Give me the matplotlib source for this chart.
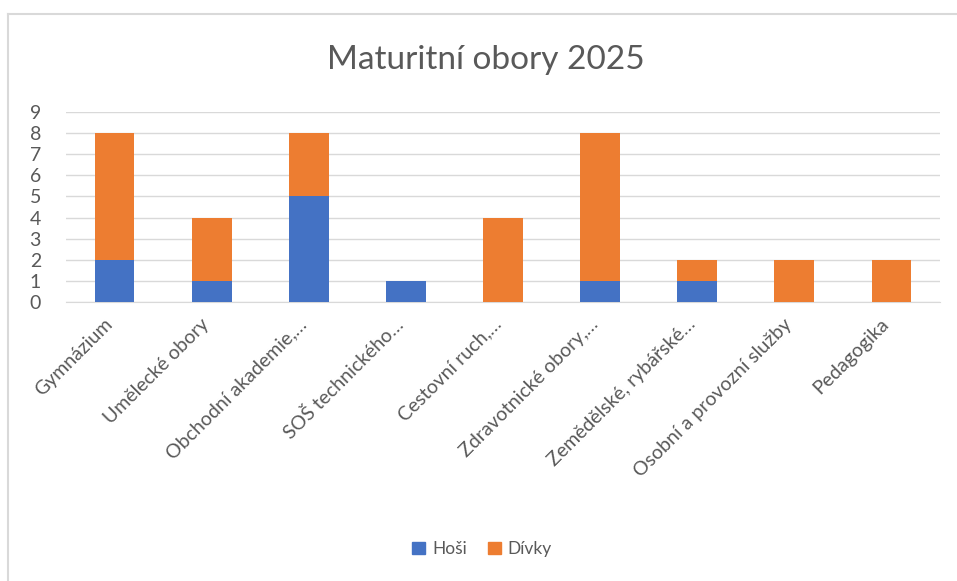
import matplotlib.pyplot as plt
import numpy as np
from matplotlib.lines import Line2D
from matplotlib.patches import Patch
from matplotlib.transforms import ScaledTranslation

plt.rcParams['font.family'] = ['Lato', 'DejaVu Sans']

# data
obory = ['Gymnázium', 'Umělecké obory', 'Obchodní akademie,…', 'SOŠ technického…',
         'Cestovní ruch,…', 'Zdravotnické obory,…', 'Zemědělské, rybářské…',
         'Osobní a provozní služby', 'Pedagogika']
hosi = [2, 1, 5, 1, 0, 1, 1, 0, 0]
divky = [6, 3, 3, 0, 4, 7, 1, 2, 2]

BLUE = '#4472C4'
ORANGE = '#ED7D31'
TEXT = '#595959'
GRID = '#D9D9D9'

fig = plt.figure(figsize=(9.57, 5.81), dpi=100)

# ramecek grafu (jen horni a leva hrana jsou videt)
fig.add_artist(Line2D([8 / 957, 1], [1 - 14 / 581] * 2, color=GRID, lw=1.5))
fig.add_artist(Line2D([8 / 957] * 2, [0, 1 - 14 / 581], color=GRID, lw=1.5))

ax = fig.add_axes([66 / 957, 1 - 302 / 581, (940 - 66) / 957, (302 - 112) / 581])

x = np.arange(len(obory))
ax.bar(x, hosi, width=0.41, color=BLUE, label='Hoši', zorder=3)
ax.bar(x, divky, width=0.41, bottom=hosi, color=ORANGE, label='Dívky', zorder=3)

ax.set_xlim(-0.5, len(obory) - 0.5)
ax.set_ylim(0, 9)
ax.set_yticks(range(0, 10))
ax.grid(axis='y', color=GRID, lw=1, zorder=0)
for s in ['top', 'right', 'left']:
    ax.spines[s].set_visible(False)
ax.spines['bottom'].set_color(GRID)
ax.tick_params(axis='both', length=0, colors=TEXT, labelsize=14)
ax.tick_params(axis='y', pad=18)
ax.set_xticks(x)
ax.set_xticklabels(obory, rotation=45, ha='right', va='center', rotation_mode='anchor')
ax.tick_params(axis='x', pad=14)
# posun popisku trochu doleva
posun = ScaledTranslation(-5 / 100, 0, fig.dpi_scale_trans)
for lbl in ax.get_xticklabels():
    lbl.set_transform(lbl.get_transform() + posun)

fig.text(486 / 957, 1 - 60 / 581, 'Maturitní obory 2025', ha='center', va='center',
         fontsize=24, color=TEXT)

handles = [Patch(color=BLUE, label='Hoši'), Patch(color=ORANGE, label='Dívky')]
fig.legend(handles=handles, loc='center', bbox_to_anchor=(482 / 957, 1 - 549 / 581),
           ncol=2, frameon=False, fontsize=12.5, labelcolor=TEXT,
           handlelength=0.75, handleheight=0.75, handletextpad=0.4, columnspacing=1.2)

plt.savefig('out.png', dpi=100)
